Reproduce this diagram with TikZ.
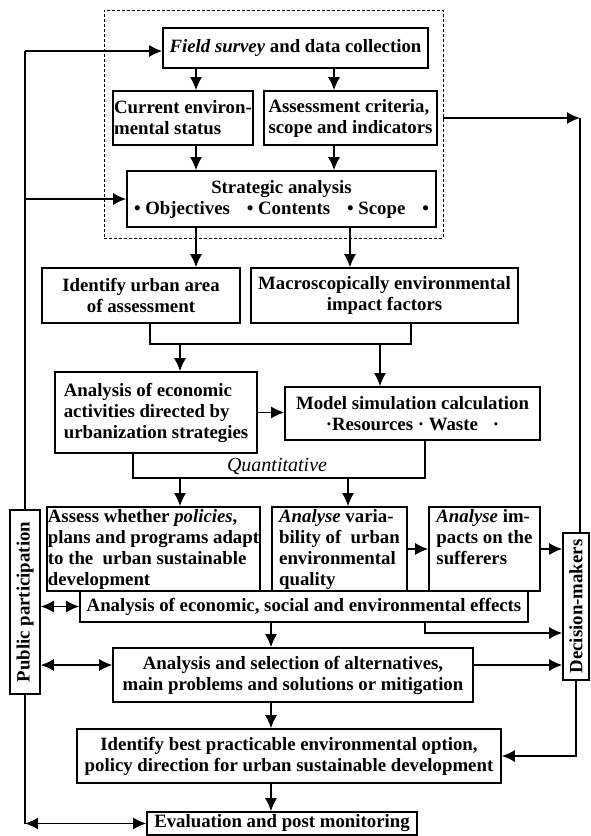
\documentclass[tikz,border=0pt]{standalone}
\usepackage{fontspec}
\setmainfont{Liberation Serif}
\usetikzlibrary{arrows.meta}
\tikzset{
  box/.style={draw, line width=1.6pt, fill=white, inner sep=0.5pt,
    font=\bfseries\fontsize{18.8}{21}\selectfont},
  link/.style={line width=1.5pt},
  arr/.style={link, -{Latex[length=13pt,width=12pt]}},
  dbl/.style={link, {Latex[length=13pt,width=12pt]}-{Latex[length=13pt,width=12pt]}},
}

\begin{document}
\begin{tikzpicture}[x=1pt, y=-1pt]
\useasboundingbox (0,0) rectangle (591,836);

\node[draw, densely dashed, line width=0.7pt, minimum width=339pt, minimum height=228pt] (group) at (273.5,124) {};
\node[box, minimum width=265pt, minimum height=40pt] (field) at (295.5,48) {\textit{Field survey} and data collection};
\node[box, align=left, minimum width=140pt, minimum height=54pt] (status) at (183,118) {Current environ-\\mental status};
\node[box, align=left, minimum width=173pt, minimum height=54pt] (criteria) at (350.5,118) {Assessment criteria,\\scope and indicators};
\node[box, align=center, minimum width=309pt, minimum height=56pt] (strat) at (281.5,199)
  {Strategic analysis\\\textbullet\ Objectives\hspace{0.9em}\textbullet\ Contents\hspace{0.9em}\textbullet\ Scope\hspace{0.9em}\textbullet};
\node[box, align=center, minimum width=198pt, minimum height=55pt] (urban) at (141,295.5) {Identify urban area\\of assessment};
\node[box, align=center, minimum width=267pt, minimum height=55pt] (macro) at (384.5,295.5) {Macroscopically environmental\\impact factors};
\node[box, align=left, minimum width=202pt, minimum height=81pt] (econ) at (156,412.5) {Analysis of economic\\activities directed by\\urbanization strategies};
\node[box, align=center, minimum width=255pt, minimum height=53pt] (model) at (412.5,413.5)
  {Model simulation calculation\\\textperiodcentered Resources \textperiodcentered\ Waste\hspace{0.8em}\textperiodcentered};
\node[box, minimum width=448pt, minimum height=31pt] (effects) at (304,606.5) {Analysis of economic, social and environmental effects};
\node[box, align=left, minimum width=213pt, minimum height=84pt] (assess) at (153.5,549)
  {Assess whether \textit{policies},\\plans and programs adapt\\to the\ \ urban sustainable\\development};
\node[box, align=left, minimum width=135pt, minimum height=84pt] (variab) at (339.5,549)
  {\textit{Analyse} varia-\\bility of\ \ urban\\environmental\\quality};
\node[box, align=left, minimum width=111pt, minimum height=84pt] (suffer) at (484.5,549)
  {\textit{Analyse} im-\\pacts on the\\sufferers\\[4pt]};
\node[box, align=center, minimum width=360pt, minimum height=54pt] (alt) at (293,675)
  {Analysis and selection of alternatives,\\main problems and solutions or mitigation};
\node[box, align=center, minimum width=424pt, minimum height=54pt] (best) at (289,756)
  {Identify best practicable environmental option,\\policy direction for urban sustainable development};
\node[box, minimum width=270pt, minimum height=23pt] (eval) at (282,823.5) {Evaluation and post monitoring};
\node[box, minimum width=30pt, minimum height=184pt] (public) at (25,602) {\rotatebox{90}{Public participation}};
\node[box, minimum width=26pt, minimum height=147pt] (decision) at (576,606.5) {\rotatebox{90}{Decision-makers}};
\node[font=\itshape\fontsize{20}{22}\selectfont] (quant) at (277,466) {Quantitative};

\coordinate (cA) at (196,0);
\coordinate (cB) at (334,0);
\coordinate (cC) at (350,0);
\coordinate (cD) at (150,344);
\coordinate (cE) at (411,344);
\coordinate (cF) at (180,0);
\coordinate (cG) at (380,0);
\coordinate (cH) at (133,478);
\coordinate (cI) at (425,478);
\coordinate (cJ) at (348,0);
\coordinate (cK) at (271,0);
\coordinate (cL) at (580,118);
\coordinate (cM) at (0,633);
\coordinate (cN) at (0,665);
\coordinate (cP) at (25,51);

\draw[link] (public.north) -- (cP);
\draw[arr] (cP) -- (cP -| field.west);
\draw[arr] (public.north |- strat.west) -- (strat.west);
\draw[arr] (field.south -| cA) -- (status.north -| cA);
\draw[arr] (field.south -| cB) -- (criteria.north -| cB);
\draw[arr] (status.south -| cA) -- (strat.north -| cA);
\draw[arr] (criteria.south -| cB) -- (strat.north -| cB);
\draw[arr] (group.east |- cL) -- (cL);
\draw[link] (cL) -- (decision.north -| cL);
\draw[arr] (strat.south -| cA) -- (urban.north -| cA);
\draw[arr] (strat.south -| cC) -- (macro.north -| cC);
\draw[link] (urban.south -| cD) -- (cD) -- (cE) -- (macro.south -| cE);
\draw[arr] (cF |- cD) -- (econ.north -| cF);
\draw[arr] (cG |- cD) -- (model.north -| cG);
\draw[arr] (econ.east) -- (econ.east -| model.west);
\draw[link] (econ.south -| cH) -- (cH) -- (cI) -- (model.south -| cI);
\draw[arr] (cF |- cH) -- (assess.north -| cF);
\draw[arr] (cJ |- cH) -- (variab.north -| cJ);
\draw[arr] (variab.east) -- (variab.east -| suffer.west);
\draw[arr] (suffer.east) -- (suffer.east -| decision.west);
\draw[dbl] (public.east |- effects.west) -- (effects.west);
\draw[arr] (effects.south -| cI) |- (decision.west |- cM);
\draw[arr] (effects.south -| cK) -- (alt.north -| cK);
\draw[dbl] (public.east |- cN) -- (alt.west |- cN);
\draw[arr] (alt.east |- cN) -- (decision.west |- cN);
\draw[arr] (alt.south -| cK) -- (best.north -| cK);
\draw[arr] (decision.south) |- (best.east);
\draw[arr] (best.south -| cK) -- (eval.north -| cK);
\draw[link] (public.south) -- (public.south |- eval.west);
\draw[dbl] (public.south |- eval.west) -- (eval.west);
\end{tikzpicture}
\end{document}
